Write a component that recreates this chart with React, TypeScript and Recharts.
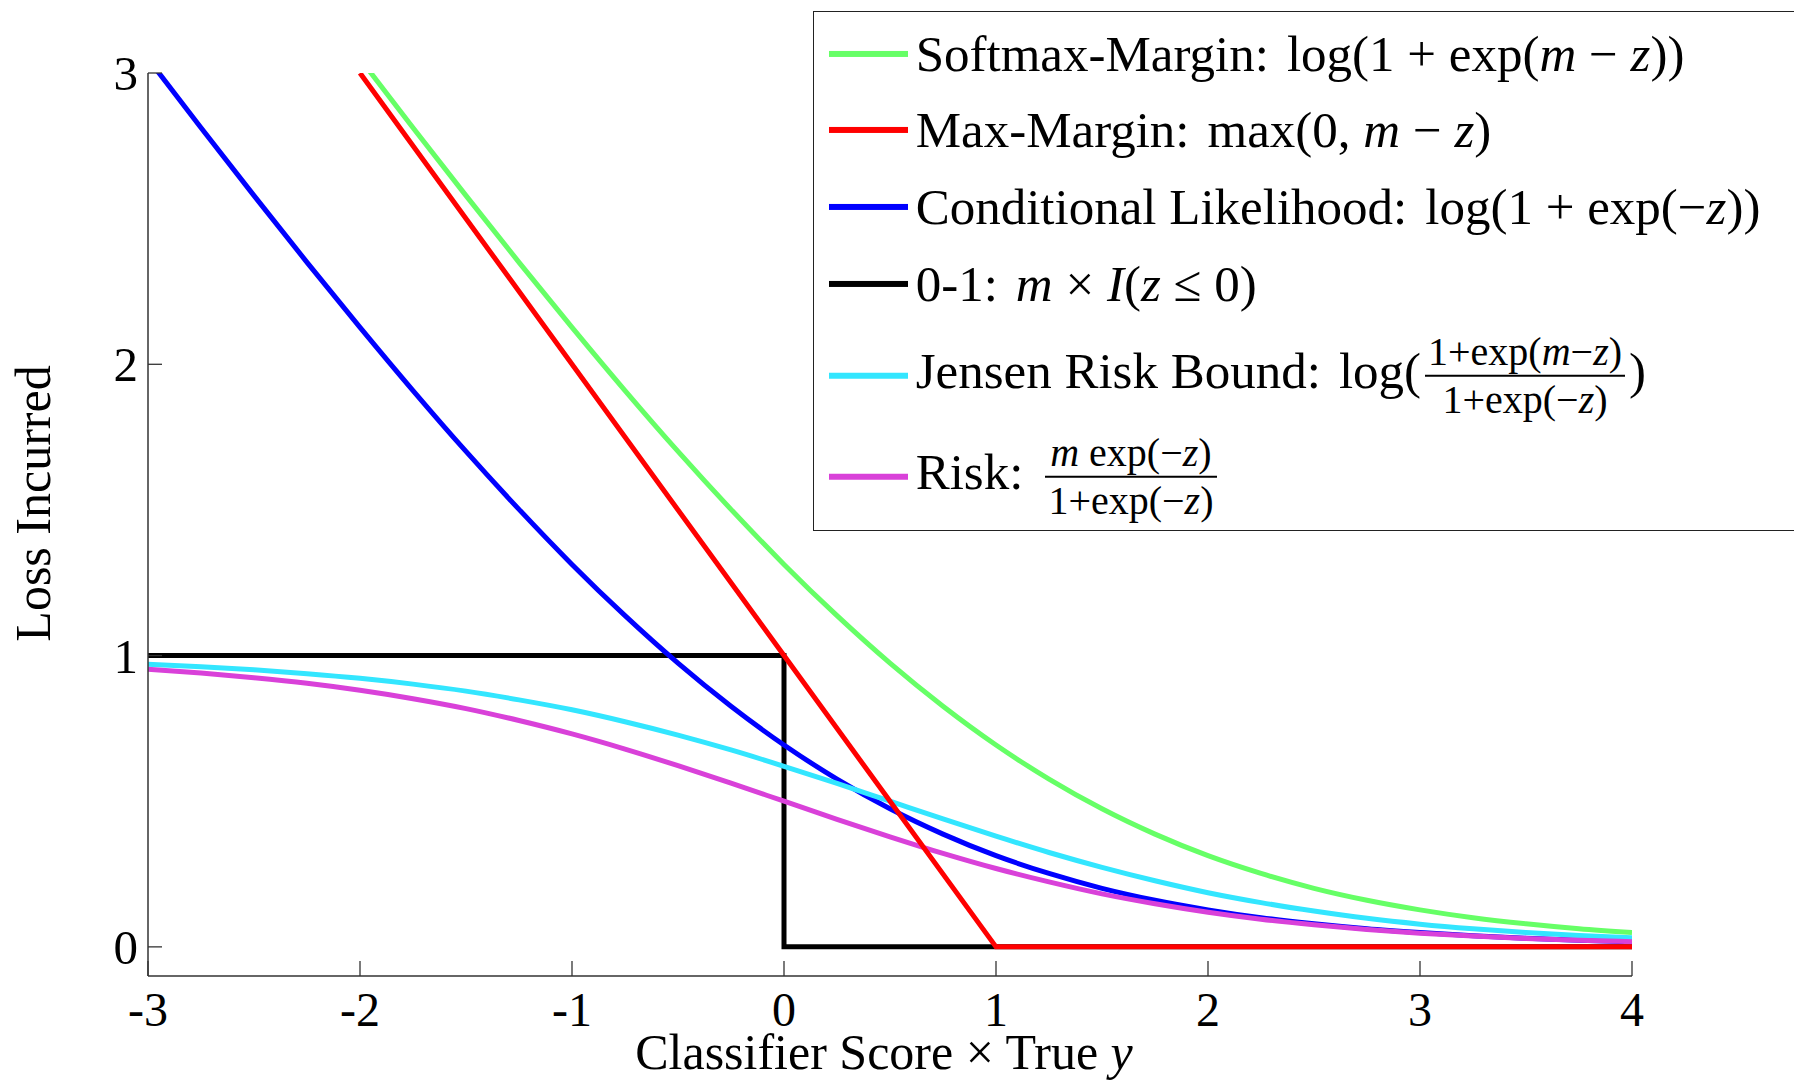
import React from "react";
import { LineChart, Line, XAxis, YAxis } from "recharts";

const serif = '"Liberation Serif", "Times New Roman", serif';
const axisColor = "#333333";

// classifier score x true y, sampled every 0.25
const zGrid = [
  -3, -2.75, -2.5, -2.25, -2, -1.75, -1.5, -1.25, -1, -0.75, -0.5, -0.25, 0,
  0.25, 0.5, 0.75, 1, 1.25, 1.5, 1.75, 2, 2.25, 2.5, 2.75, 3, 3.25, 3.5, 3.75, 4,
];

const softmaxLoss = [
  null, null, null, null, 3.049, 2.812, 2.579, 2.35, 2.127, 1.91, 1.701, 1.502,
  1.313, 1.137, 0.974, 0.826, 0.693, 0.576, 0.474, 0.387, 0.313, 0.252, 0.201,
  0.16, 0.127, 0.1, 0.079, 0.062, 0.049,
];
const condLoss = [
  3.049, 2.812, 2.579, 2.35, 2.127, 1.91, 1.701, 1.502, 1.313, 1.137, 0.974,
  0.826, 0.693, 0.576, 0.474, 0.387, 0.313, 0.252, 0.201, 0.16, 0.127, 0.1,
  0.079, 0.062, 0.049, 0.038, 0.03, 0.023, 0.018,
];
const jensenLoss = [
  0.97, 0.962, 0.951, 0.938, 0.922, 0.902, 0.878, 0.848, 0.814, 0.773, 0.727,
  0.676, 0.62, 0.561, 0.5, 0.439, 0.38, 0.324, 0.273, 0.227, 0.186, 0.152,
  0.123, 0.098, 0.078, 0.062, 0.049, 0.039, 0.031,
];
const riskLoss = [
  0.953, 0.94, 0.924, 0.905, 0.881, 0.852, 0.818, 0.777, 0.731, 0.679, 0.622,
  0.562, 0.5, 0.438, 0.378, 0.321, 0.269, 0.223, 0.182, 0.148, 0.119, 0.095,
  0.076, 0.06, 0.047, 0.037, 0.029, 0.023, 0.018,
];

// piecewise-linear losses
const hingeZ = [-2, 1, 4];
const hingeLoss = [3, 0, 0];
const zeroOneZ = [-3, 0, 0, 4];
const zeroOneLoss = [1, 1, 0, 0];

const xTicks = [-3, -2, -1, 0, 1, 2, 3, 4];
const yTicks = [0, 1, 2, 3];

const colors = {
  softmax: "#66FF66",
  hinge: "#FF0000",
  cond: "#0000FF",
  zeroOne: "#000000",
  jensen: "#33E6FF",
  risk: "#D941D9",
};

const curveData = zGrid.map((z, i) => ({
  z,
  softmax: softmaxLoss[i],
  cond: condLoss[i],
  jensen: jensenLoss[i],
  risk: riskLoss[i],
}));
const hingeData = hingeZ.map((z, i) => ({ z, loss: hingeLoss[i] }));
const zeroOneData = zeroOneZ.map((z, i) => ({ z, loss: zeroOneLoss[i] }));

function XTick(props: any) {
  const { x, y, payload } = props;
  return (
    <g>
      <line x1={x} y1={y} x2={x} y2={y - 15} stroke={axisColor} strokeWidth={1.3} />
      <text x={x} y={y + 50} textAnchor="middle" fontSize={48} fontFamily={serif} fill="#000">
        {payload.value}
      </text>
    </g>
  );
}

function YTick(props: any) {
  const { x, y, payload } = props;
  return (
    <g>
      <line x1={x} y1={y} x2={x + 14} y2={y} stroke={axisColor} strokeWidth={1.3} />
      <text x={x - 10} y={y + 17} textAnchor="end" fontSize={49} fontFamily={serif} fill="#000">
        {payload.value}
      </text>
    </g>
  );
}

function Frac({ top, bottom }: { top: React.ReactNode; bottom: React.ReactNode }) {
  return (
    <span
      style={{
        display: "inline-flex",
        flexDirection: "column",
        alignItems: "center",
        verticalAlign: "middle",
        fontSize: 40,
        lineHeight: 1,
        margin: "0 4px",
        whiteSpace: "pre",
      }}
    >
      <span style={{ padding: "0 3px 3px" }}>{top}</span>
      <span style={{ alignSelf: "stretch", height: 2.5, background: "#000" }} />
      <span style={{ padding: "3px 3px 0" }}>{bottom}</span>
    </span>
  );
}

const gap = <span style={{ display: "inline-block", width: 18 }} />;

const legendRows = [
  {
    color: colors.softmax,
    center: 42,
    content: (
      <>
        Softmax-Margin:{gap}log(1 + exp(<i>m</i> − <i>z</i>))
      </>
    ),
  },
  {
    color: colors.hinge,
    center: 118.6,
    content: (
      <>
        Max-Margin:{gap}max(0, <i>m</i> − <i>z</i>)
      </>
    ),
  },
  {
    color: colors.cond,
    center: 195.3,
    content: (
      <>
        Conditional Likelihood:{gap}log(1 + exp(−<i>z</i>))
      </>
    ),
  },
  {
    color: colors.zeroOne,
    center: 272,
    content: (
      <>
        0-1:{gap}
        <i>m</i> × <i>I</i>(<i>z</i> ≤ 0)
      </>
    ),
  },
  {
    color: colors.jensen,
    center: 364,
    content: (
      <>
        Jensen Risk Bound:{gap}log(
        <Frac
          top={
            <>
              1+exp(<i>m</i>−<i>z</i>)
            </>
          }
          bottom={
            <>
              1+exp(−<i>z</i>)
            </>
          }
        />
        )
      </>
    ),
  },
  {
    color: colors.risk,
    center: 465,
    content: (
      <>
        Risk:{gap}
        <Frac
          top={
            <>
              <i>m</i> exp(−<i>z</i>)
            </>
          }
          bottom={
            <>
              1+exp(−<i>z</i>)
            </>
          }
        />
      </>
    ),
  },
];

export default function App() {
  return (
    <div
      style={{
        position: "relative",
        width: 1794,
        height: 1080,
        overflow: "hidden",
        fontFamily: serif,
        background: "#fff",
      }}
    >
      <style>{`html, body { margin: 0; overflow: hidden; background: #fff; }`}</style>
      <LineChart
        width={1794}
        height={1080}
        data={curveData}
        margin={{ top: 73, right: 162, bottom: 0, left: 0 }}
      >
        <XAxis
          type="number"
          dataKey="z"
          domain={[-3, 4]}
          ticks={xTicks}
          interval={0}
          allowDataOverflow
          height={104}
          tickSize={0}
          tickMargin={0}
          tickLine={false}
          axisLine={{ stroke: axisColor, strokeWidth: 1.5 }}
          tick={<XTick />}
        />
        <YAxis
          type="number"
          domain={[-0.1, 3]}
          ticks={yTicks}
          interval={0}
          allowDataOverflow
          width={148}
          tickSize={0}
          tickMargin={0}
          tickLine={false}
          axisLine={{ stroke: axisColor, strokeWidth: 1.5 }}
          tick={<YTick />}
        />
        <Line
          data={zeroOneData}
          dataKey="loss"
          type="linear"
          stroke={colors.zeroOne}
          strokeWidth={5}
          dot={false}
          activeDot={false}
          isAnimationActive={false}
        />
        <Line
          dataKey="softmax"
          type="monotone"
          stroke={colors.softmax}
          strokeWidth={5}
          dot={false}
          activeDot={false}
          isAnimationActive={false}
        />
        <Line
          dataKey="cond"
          type="monotone"
          stroke={colors.cond}
          strokeWidth={5}
          dot={false}
          activeDot={false}
          isAnimationActive={false}
        />
        <Line
          dataKey="jensen"
          type="monotone"
          stroke={colors.jensen}
          strokeWidth={5}
          dot={false}
          activeDot={false}
          isAnimationActive={false}
        />
        <Line
          dataKey="risk"
          type="monotone"
          stroke={colors.risk}
          strokeWidth={5}
          dot={false}
          activeDot={false}
          isAnimationActive={false}
        />
        <Line
          data={hingeData}
          dataKey="loss"
          type="linear"
          stroke={colors.hinge}
          strokeWidth={5}
          dot={false}
          activeDot={false}
          isAnimationActive={false}
        />
      </LineChart>

      {/* axis titles */}
      <svg
        width={1794}
        height={1080}
        style={{ position: "absolute", left: 0, top: 0, pointerEvents: "none" }}
      >
        <text x={884} y={1069} textAnchor="middle" fontSize={50} fontFamily={serif} fill="#000">
          Classifier Score × True <tspan fontStyle="italic">y</tspan>
        </text>
        <text
          transform="translate(50, 503.5) rotate(-90)"
          textAnchor="middle"
          fontSize={50}
          fontFamily={serif}
          fill="#000"
        >
          Loss Incurred
        </text>
      </svg>

      {/* legend */}
      <div
        style={{
          position: "absolute",
          left: 812.7,
          top: 10.7,
          width: 1100,
          height: 520,
          boxSizing: "border-box",
          border: "1.5px solid #222",
          background: "#fff",
        }}
      >
        {legendRows.map((row, i) => (
          <div
            key={i}
            style={{
              position: "absolute",
              left: 15,
              top: row.center,
              transform: "translateY(-50%)",
              display: "flex",
              alignItems: "center",
              whiteSpace: "nowrap",
              fontSize: 51,
              lineHeight: 1.1,
              color: "#000",
            }}
          >
            <span style={{ width: 79, height: 6, background: row.color, flexShrink: 0 }} />
            <span style={{ marginLeft: 8, whiteSpace: "pre" }}>{row.content}</span>
          </div>
        ))}
      </div>
    </div>
  );
}
